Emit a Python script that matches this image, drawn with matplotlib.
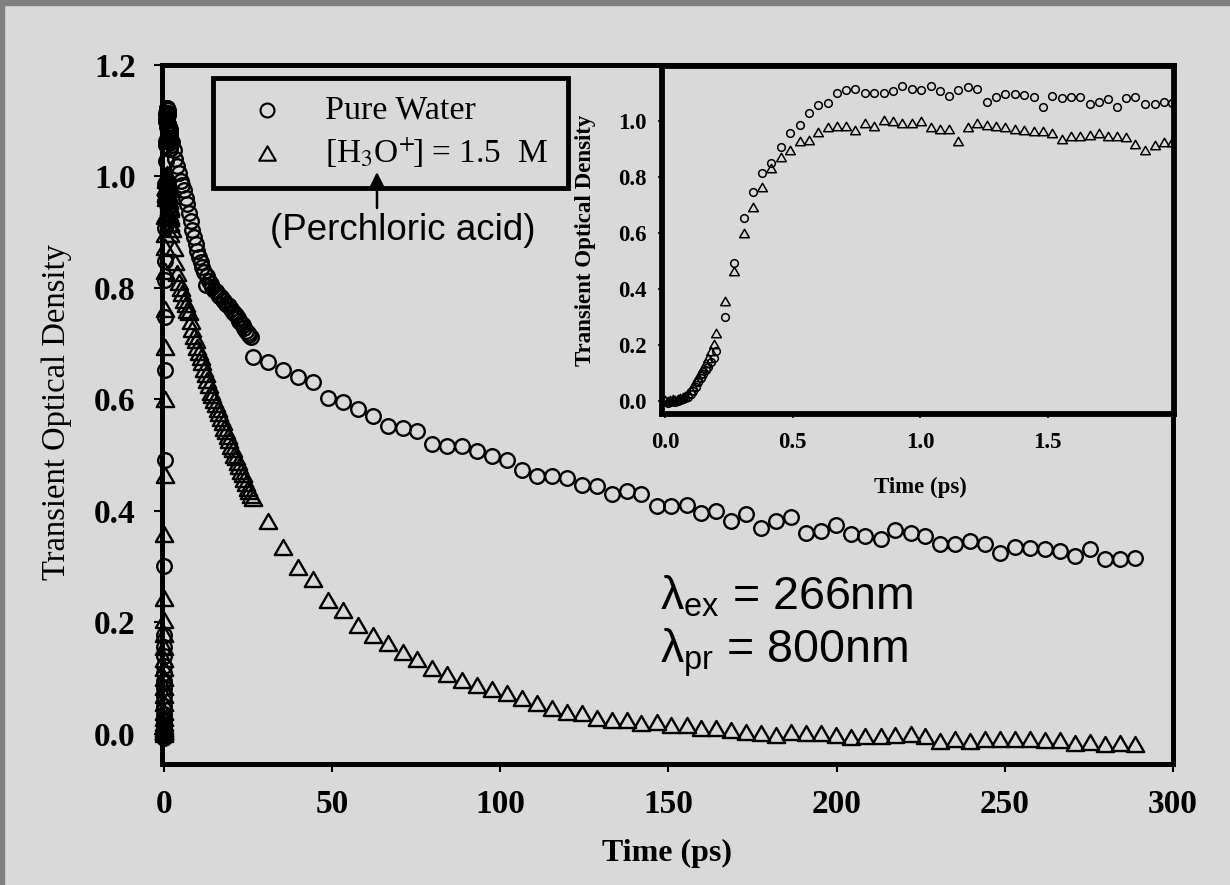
#!/usr/bin/env python3
"""Transient optical density decay: pure water vs perchloric acid (with rise-time inset)"""

import matplotlib
matplotlib.use("Agg")
import matplotlib.pyplot as plt
from matplotlib.patches import Rectangle
from matplotlib.path import Path

W, H = 1230, 885
BG = "#d9d9d9"
FRAME = "#808080"

# --- inset (0 - 2 ps), shared delay times for both series ---
INSET_T = [
    0.00, 0.01, 0.02, 0.03, 0.04, 0.05, 0.06, 0.07, 0.08, 0.09, 0.10,
    0.11, 0.12, 0.13, 0.14, 0.15, 0.16, 0.17, 0.18, 0.19, 0.20,
    0.236, 0.272, 0.309, 0.346, 0.379, 0.416, 0.453, 0.491, 0.528, 0.565,
    0.601, 0.638, 0.674, 0.710, 0.746, 0.783, 0.820, 0.858, 0.894, 0.930,
    0.967, 1.004, 1.042, 1.078, 1.115, 1.150, 1.189, 1.223, 1.261, 1.298,
    1.334, 1.372, 1.409, 1.445, 1.482, 1.519, 1.557, 1.594, 1.629, 1.666,
    1.703, 1.737, 1.772, 1.809, 1.845, 1.884, 1.921, 1.955, 1.988,
]
INSET_WATER = [
    0.000, -0.008, -0.004, 0.000, -0.003, 0.002, 0.004, 0.006, 0.010, 0.016, 0.024,
    0.036, 0.050, 0.068, 0.082, 0.095, 0.110, 0.122, 0.140, 0.155, 0.178,
    0.301, 0.492, 0.652, 0.748, 0.815, 0.849, 0.908, 0.956, 0.986, 1.027,
    1.057, 1.063, 1.099, 1.111, 1.113, 1.101, 1.099, 1.099, 1.105, 1.123,
    1.113, 1.111, 1.123, 1.105, 1.089, 1.111, 1.120, 1.113, 1.069, 1.087,
    1.095, 1.095, 1.093, 1.087, 1.049, 1.089, 1.081, 1.087, 1.087, 1.061,
    1.069, 1.078, 1.049, 1.081, 1.085, 1.061, 1.061, 1.069, 1.063,
]
INSET_ACID = [
    0.005, 0.000, 0.003, 0.006, 0.004, 0.008, 0.010, 0.014, 0.020, 0.028, 0.040,
    0.055, 0.070, 0.085, 0.100, 0.118, 0.135, 0.155, 0.180, 0.205, 0.243,
    0.358, 0.465, 0.601, 0.694, 0.763, 0.831, 0.873, 0.896, 0.930, 0.932,
    0.962, 0.980, 0.982, 0.982, 0.968, 0.994, 0.982, 1.004, 0.998, 0.994,
    0.994, 0.998, 0.977, 0.970, 0.970, 0.930, 0.977, 0.994, 0.986, 0.982,
    0.977, 0.970, 0.968, 0.965, 0.965, 0.956, 0.935, 0.946, 0.946, 0.950,
    0.958, 0.946, 0.946, 0.942, 0.917, 0.896, 0.914, 0.926, 0.926,
]

# --- main panel, densely sampled part (2 - 26 ps) ---
DENSE_T = [
    2.0, 2.5, 3.0, 3.5, 4.0, 4.5, 5.0, 5.5, 6.0, 6.5, 7.0, 7.5, 8.0, 8.5,
    9.0, 9.5, 10.0, 10.5, 11.0, 11.5, 12.0, 12.5, 13.0, 13.5, 14.0, 14.5,
    15.0, 15.5, 16.0, 16.5, 17.0, 17.5, 18.0, 18.5, 19.0, 19.5, 20.0, 20.5,
    21.0, 21.5, 22.0, 22.5, 23.0, 23.5, 24.0, 24.5, 25.0, 25.5, 26.0,
]
DENSE_WATER = [
    1.075, 1.062, 1.048, 1.032, 1.018, 1.006, 0.992, 0.984, 0.976, 0.962, 0.951,
    0.934, 0.921, 0.904, 0.892, 0.878, 0.866, 0.856, 0.847, 0.838, 0.829, 0.805,
    0.821, 0.812, 0.807, 0.801, 0.797, 0.795, 0.789, 0.786, 0.784, 0.779, 0.777,
    0.772, 0.770, 0.767, 0.762, 0.757, 0.755, 0.751, 0.746, 0.741, 0.738, 0.734,
    0.729, 0.723, 0.720, 0.716, 0.712,
]
DENSE_ACID = [
    0.930, 0.905, 0.872, 0.846, 0.826, 0.811, 0.800, 0.791, 0.779, 0.771, 0.760,
    0.756, 0.741, 0.726, 0.714, 0.706, 0.694, 0.686, 0.677, 0.668, 0.655, 0.646,
    0.634, 0.626, 0.614, 0.608, 0.599, 0.591, 0.582, 0.576, 0.566, 0.559, 0.549,
    0.543, 0.534, 0.528, 0.517, 0.511, 0.501, 0.496, 0.487, 0.481, 0.471, 0.466,
    0.457, 0.451, 0.442, 0.436, 0.428,
]

# --- main panel, sparse part (26 - 289 ps) ---
SPARSE_T = [
    26.6, 31.0, 35.5, 39.9, 44.4, 48.8, 53.2, 57.7, 62.1, 66.6, 71.0, 75.4,
    79.9, 84.3, 88.8, 93.2, 97.6, 102.1, 106.5, 111.0, 115.4, 119.8, 124.3,
    128.7, 133.2, 137.6, 142.0, 146.5, 150.9, 155.4, 159.8, 164.2, 168.7,
    173.1, 177.6, 182.0, 186.4, 190.9, 195.3, 199.8, 204.2, 208.6, 213.1,
    217.5, 222.0, 226.4, 230.8, 235.3, 239.7, 244.2, 248.6, 253.0, 257.5,
    261.9, 266.4, 270.8, 275.2, 279.7, 284.1, 288.6,
]
SPARSE_WATER = [
    0.677, 0.668, 0.653, 0.641, 0.632, 0.602, 0.596, 0.583, 0.570, 0.552, 0.549,
    0.544, 0.520, 0.517, 0.516, 0.508, 0.498, 0.492, 0.474, 0.462, 0.462, 0.459,
    0.447, 0.445, 0.430, 0.436, 0.430, 0.409, 0.409, 0.411, 0.396, 0.400, 0.382,
    0.394, 0.370, 0.382, 0.389, 0.361, 0.364, 0.375, 0.358, 0.355, 0.349, 0.365,
    0.361, 0.355, 0.340, 0.340, 0.346, 0.340, 0.325, 0.335, 0.334, 0.331, 0.329,
    0.320, 0.331, 0.313, 0.313, 0.316,
]
SPARSE_ACID = [
    0.424, 0.382, 0.336, 0.299, 0.278, 0.240, 0.222, 0.195, 0.177, 0.163, 0.147,
    0.134, 0.118, 0.107, 0.097, 0.0875, 0.081, 0.073, 0.064, 0.055, 0.046, 0.040,
    0.037, 0.028, 0.025, 0.025, 0.019, 0.022, 0.016, 0.016, 0.010, 0.010, 0.007,
    0.004, 0.001, -0.002, 0.004, 0.001, 0.001, -0.002, -0.005, -0.004, -0.003,
    -0.002, -0.001, -0.003, -0.012, -0.010, -0.012, -0.010, -0.010, -0.009,
    -0.010, -0.011, -0.011, -0.016, -0.014, -0.019, -0.017, -0.019,
]

MAIN_XTICKS = [0, 50, 100, 150, 200, 250, 300]
MAIN_YTICKS = [0.0, 0.2, 0.4, 0.6, 0.8, 1.0, 1.2]
INSET_XTICKS = [0.0, 0.5, 1.0, 1.5]
INSET_YTICKS = [0.0, 0.2, 0.4, 0.6, 0.8, 1.0]

# open triangle, wider than tall like the scan
TRI = Path([(0, 0.433), (-0.5, -0.433), (0.5, -0.433), (0, 0.433)], closed=True)


def fxy(px, py):
    """pixel (top-left origin) -> figure fraction"""
    return px / W, 1 - py / H


def main():
    plt.rcParams["font.family"] = ["Liberation Serif", "DejaVu Serif"]
    plt.rcParams["mathtext.fontset"] = "custom"
    plt.rcParams["mathtext.rm"] = "Liberation Sans"
    plt.rcParams["mathtext.it"] = "Liberation Sans:italic"
    plt.rcParams["mathtext.bf"] = "Liberation Sans:bold"

    fig = plt.figure(figsize=(W / 100, H / 100), dpi=100, facecolor=BG)

    # scan frame (top and left strip)
    fig.patches.append(Rectangle((0, 0), 4 / W, 1, transform=fig.transFigure,
                                 color=FRAME, zorder=0))
    fig.patches.append(Rectangle((0, 1 - 5 / H), 1, 5 / H, transform=fig.transFigure,
                                 color=FRAME, zorder=0))

    # ---------------- main axes ----------------
    l, b = fxy(162, 764)
    r, t = fxy(1173, 65)
    ax = fig.add_axes([l, b, r - l, t - b])
    ax.set_facecolor(BG)

    water_t = INSET_T + DENSE_T + SPARSE_T
    water_y = INSET_WATER + DENSE_WATER + SPARSE_WATER
    acid_y = INSET_ACID + DENSE_ACID + SPARSE_ACID

    ax.plot(water_t, water_y, ls="none", marker="o", ms=10.5, mfc="none",
            mec="black", mew=1.7, clip_on=False, zorder=3)
    ax.plot(water_t, acid_y, ls="none", marker=TRI, ms=12.5, mfc="none",
            mec="black", mew=1.7, clip_on=False, zorder=3)

    ax.set_xlim(-0.5, 300)
    ax.set_ylim(-0.054, 1.196)
    ax.set_xticks(MAIN_XTICKS)
    ax.set_yticks(MAIN_YTICKS)
    ax.set_xticklabels([str(v) for v in MAIN_XTICKS])
    ax.set_yticklabels([f"{v:.1f}" for v in MAIN_YTICKS])
    ax.tick_params(axis="both", direction="out", length=6, width=1.5,
                   labelsize=24, color="black")
    ax.tick_params(axis="x", pad=12)
    ax.tick_params(axis="y", pad=13)
    for lab in ax.get_xticklabels() + ax.get_yticklabels():
        lab.set_fontweight("bold")
    for sp in ax.spines.values():
        sp.set_linewidth(3.6)
        sp.set_color("black")

    x, y = fxy(667, 853)
    fig.text(x, y, "Time (ps)", fontsize=23, fontweight="bold", ha="center", va="center")
    x, y = fxy(57, 412)
    fig.text(x, y, "Transient Optical Density", fontsize=23.5, rotation=90,
             ha="center", va="center")

    # legend box (drawn by hand to sit where the original does)
    x0, y0 = fxy(213, 188)
    x1, y1 = fxy(568, 78)
    fig.patches.append(Rectangle((x0, y0), x1 - x0, y1 - y0, transform=fig.transFigure,
                                 fill=False, edgecolor="black", lw=3.5, zorder=5))
    mx, my = fxy(267, 110)
    fig.lines.append(plt.Line2D([mx], [my], transform=fig.transFigure, ls="none",
                                marker="o", ms=10, mfc="none", mec="black", mew=1.5))
    mx, my = fxy(267, 153)
    fig.lines.append(plt.Line2D([mx], [my], transform=fig.transFigure, ls="none",
                                marker=TRI, ms=12, mfc="none", mec="black", mew=1.5))
    tx, ty = fxy(325, 110)
    fig.text(tx, ty, "Pure Water", fontsize=24.5, ha="left", va="center")
    tx, ty = fxy(325, 153)
    fig.text(tx, ty, r"[H$_3$O$^{+}\!$] = 1.5  M", fontsize=24, ha="left", va="center",
             math_fontfamily="stix")

    # arrow pointing at the acid concentration
    ax_x, ax_y = fxy(377, 172)
    tl_x, tl_y = fxy(377, 208)
    ax.annotate("", xy=(ax_x, ax_y), xytext=(tl_x, tl_y), xycoords="figure fraction",
                textcoords="figure fraction",
                arrowprops=dict(arrowstyle="-|>", color="black", lw=1.8,
                                mutation_scale=22, shrinkA=0, shrinkB=0))
    tx, ty = fxy(403, 230)
    fig.text(tx, ty, "(Perchloric acid)", fontsize=26.5, family="Liberation Sans",
             ha="center", va="center")

    # excitation / probe wavelengths
    tx, ty = fxy(660, 597)
    fig.text(tx, ty, r"λ$_{\mathrm{ex}}$ = 266nm", fontsize=33.5,
             family="Liberation Sans", ha="left", va="center")
    tx, ty = fxy(660, 653)
    fig.text(tx, ty, r"λ$_{\mathrm{pr}}$ = 800nm", fontsize=33.5,
             family="Liberation Sans", ha="left", va="center")

    # ---------------- inset ----------------
    l, b = fxy(662, 414)
    r, t = fxy(1174, 66)
    axi = fig.add_axes([l, b, r - l, t - b])
    axi.set_facecolor(BG)
    axi.plot(INSET_T, INSET_WATER, ls="none", marker="o", ms=5.5, mfc="none",
             mec="black", mew=1.1, zorder=3)
    axi.plot(INSET_T, INSET_ACID, ls="none", marker=TRI, ms=7, mfc="none",
             mec="black", mew=1.1, zorder=3)
    axi.set_xlim(-0.012, 1.996)
    axi.set_ylim(-0.046, 1.196)
    axi.set_xticks(INSET_XTICKS)
    axi.set_yticks(INSET_YTICKS)
    axi.set_xticklabels([f"{v:.1f}" for v in INSET_XTICKS])
    axi.set_yticklabels([f"{v:.1f}" for v in INSET_YTICKS])
    axi.tick_params(axis="both", direction="out", length=3, width=1.2, labelsize=16.5)
    axi.tick_params(axis="x", pad=10)
    axi.tick_params(axis="y", pad=8)
    for lab in axi.get_xticklabels() + axi.get_yticklabels():
        lab.set_fontweight("bold")
    for sp in axi.spines.values():
        sp.set_linewidth(4.2)
        sp.set_color("black")

    x, y = fxy(920, 487)
    fig.text(x, y, "Time (ps)", fontsize=16.5, fontweight="bold", ha="center", va="center")
    x, y = fxy(585, 240)
    fig.text(x, y, "Transient Optical Density", fontsize=16.5, fontweight="bold",
             rotation=90, ha="center", va="center")

    fig.savefig("out.png", dpi=100, facecolor=BG)


if __name__ == "__main__":
    main()
